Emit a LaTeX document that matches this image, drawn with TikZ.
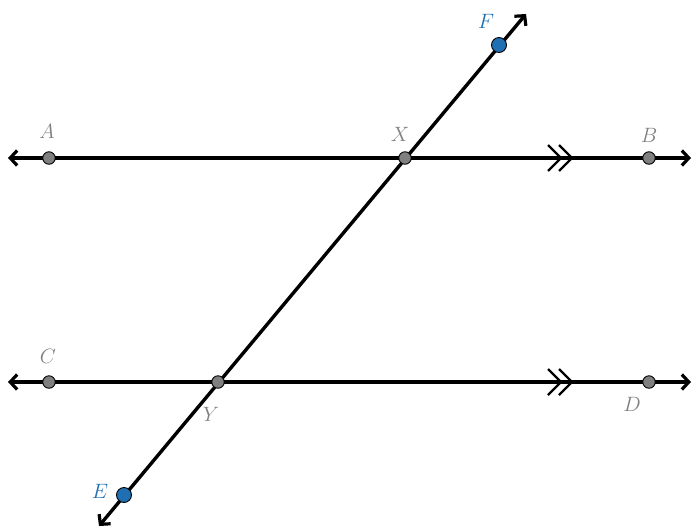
\documentclass[tikz,border=0pt]{standalone}
\usetikzlibrary{arrows.meta}
\definecolor{ptgray}{HTML}{808080}
\definecolor{ptblue}{HTML}{1F6FB2}
\begin{document}
\begin{tikzpicture}[x=1pt,y=-1pt,
  ln/.style={line width=3.4pt,{Straight Barb[length=7pt,width=15pt,line width=3.2pt]}-{Straight Barb[length=7pt,width=15pt,line width=3.2pt]}},
  gpt/.style={circle,fill=ptgray,draw=black,line width=0.9pt,inner sep=0pt,minimum size=12.5pt},
  bpt/.style={circle,fill=ptblue,draw=black,line width=0.9pt,inner sep=0pt,minimum size=15pt},
  glab/.style={text=ptgray,font=\fontsize{20}{24}\selectfont},
  blab/.style={text=ptblue,font=\fontsize{20}{24}\selectfont},
  tick/.style={line width=2.2pt}]
\useasboundingbox (0,0) rectangle (699,531);
\coordinate (a0) at (8,158);
\coordinate (a1) at (691,158);
\coordinate (c0) at (8,382);
\coordinate (c1) at (691,382);
\coordinate (e0) at (99,526);
\coordinate (f0) at (526,14);
\draw[ln] (a0) -- (a1);
\draw[ln] (c0) -- (c1);
\draw[ln] (e0) -- (f0);
% parallel marks
\foreach \y in {158,382}{
  \draw[tick] (548,\y-13) -- (561,\y) -- (548,\y+13);
  \draw[tick] (559,\y-13) -- (572,\y) -- (559,\y+13);
}
\node[gpt] (A) at (49,158) {};
\node[gpt] (X) at (405,158) {};
\node[gpt] (B) at (649,158) {};
\node[gpt] (C) at (49,382) {};
\node[gpt] (Y) at (218,382) {};
\node[gpt] (D) at (649,382) {};
\node[bpt] (E) at (124,495) {};
\node[bpt] (F) at (499,45) {};
\node[glab] at (47,131) {$A$};
\node[glab] at (400,134) {$X$};
\node[glab] at (649,135) {$B$};
\node[glab] at (48,356) {$C$};
\node[glab] at (211,414) {$Y$};
\node[glab] at (632,404) {$D$};
\node[blab] at (486,21) {$F$};
\node[blab] at (100,491) {$E$};
\end{tikzpicture}
\end{document}
